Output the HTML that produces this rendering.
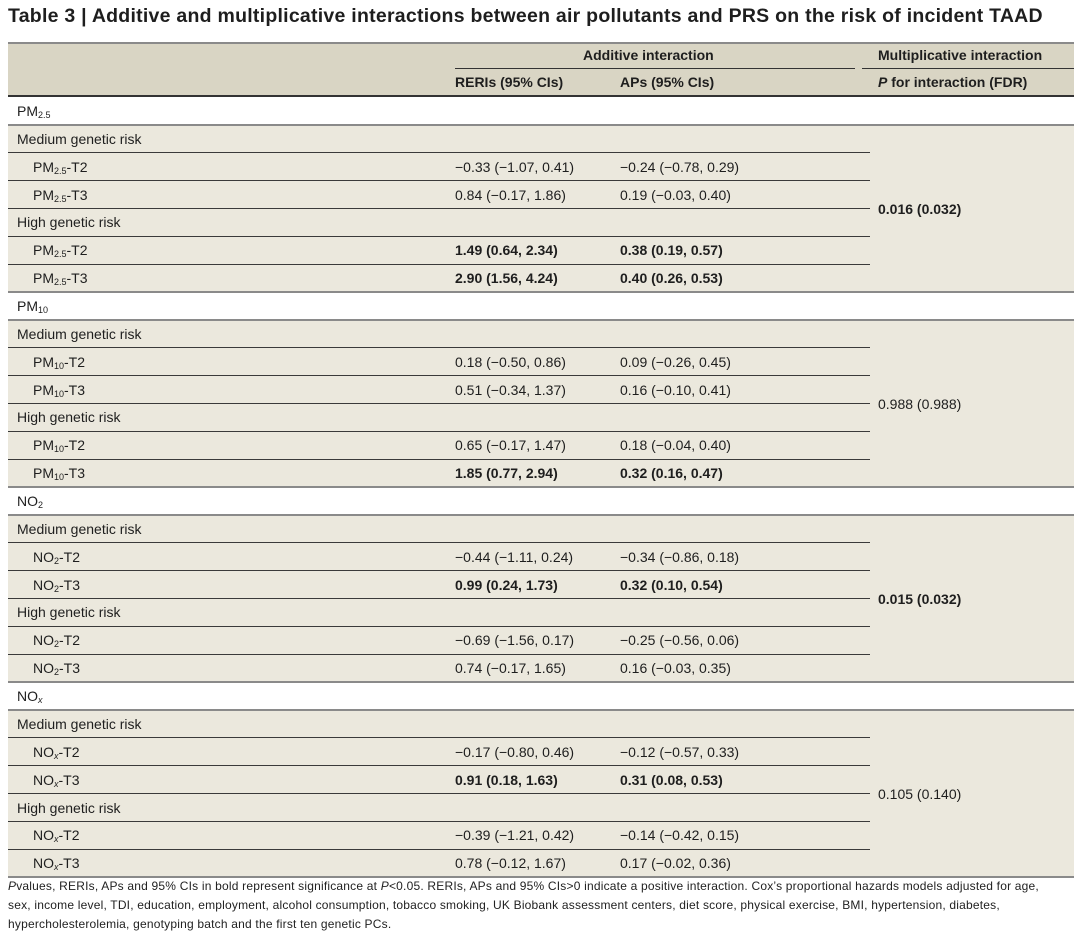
<!DOCTYPE html>
<html><head><meta charset="utf-8"><style>
body{margin:0;width:1080px;height:933px;background:#fff;position:relative;font-family:"Liberation Sans",Arial,sans-serif;color:#1e1e1e;overflow:hidden}
.a{position:absolute}
.t{left:8px;top:5px;font-size:19.5px;font-weight:bold;white-space:nowrap;letter-spacing:0.25px}
.hd{left:8px;top:42px;width:1066px;height:54px;background:#d9d5c4;border-top:2px solid #8a8a8a;box-sizing:border-box}
.hb{left:8px;top:95px;width:1066px;height:2px;background:#333}
.bg{left:8px;width:1066px;background:#ebe8dd}
.r{position:absolute;left:8px;width:1066px;height:28px;line-height:28px;font-size:14px;white-space:nowrap}
.r span{position:absolute;top:0}
.c1{left:9px}.ci{left:25px}.c2{left:447px}.c3{left:612px}
.ln{position:absolute;left:8px;width:862px;height:1px;background:#3a3a3a}
.fl{position:absolute;left:8px;width:1066px;height:2px;background:#8a8a8a}
.m{position:absolute;left:878px;font-size:14px;line-height:20px}
b{font-weight:bold}
sub{font-size:9px;vertical-align:-2px;line-height:0}
.f{left:8px;font-size:12px;white-space:nowrap;color:#222;letter-spacing:0.2px}
</style></head><body>
<div class="a t">Table 3 | Additive and multiplicative interactions between air pollutants and PRS on the risk of incident TAAD</div>
<div class="a hd"></div>
<div class="a" style="left:583px;top:47px;font-size:14px;font-weight:bold">Additive interaction</div>
<div class="a" style="left:878px;top:47px;font-size:14px;font-weight:bold">Multiplicative interaction</div>
<div class="a" style="left:455px;top:68px;width:400px;height:1px;background:#333"></div>
<div class="a" style="left:862px;top:68px;width:212px;height:1px;background:#333"></div>
<div class="a" style="left:455px;top:74px;font-size:14px;font-weight:bold">RERIs (95% CIs)</div>
<div class="a" style="left:620px;top:74px;font-size:14px;font-weight:bold">APs (95% CIs)</div>
<div class="a" style="left:878px;top:74px;font-size:14px;font-weight:bold"><i>P</i> for interaction (FDR)</div>
<div class="a hb"></div>

<!-- Block 1 -->
<div class="a bg" style="top:125px;height:168px"></div>
<div class="r" style="top:97px"><span class="c1">PM<sub>2.5</sub></span></div>
<div class="fl" style="top:124px"></div>
<div class="r" style="top:125px"><span class="c1">Medium genetic risk</span></div>
<div class="ln" style="top:152px"></div>
<div class="r" style="top:153px"><span class="ci">PM<sub>2.5</sub>-T2</span><span class="c2">−0.33 (−1.07, 0.41)</span><span class="c3">−0.24 (−0.78, 0.29)</span></div>
<div class="ln" style="top:180px"></div>
<div class="r" style="top:181px"><span class="ci">PM<sub>2.5</sub>-T3</span><span class="c2">0.84 (−0.17, 1.86)</span><span class="c3">0.19 (−0.03, 0.40)</span></div>
<div class="ln" style="top:208px"></div>
<div class="r" style="top:208px"><span class="c1">High genetic risk</span></div>
<div class="ln" style="top:236px"></div>
<div class="r" style="top:236px"><span class="ci">PM<sub>2.5</sub>-T2</span><span class="c2"><b>1.49 (0.64, 2.34)</b></span><span class="c3"><b>0.38 (0.19, 0.57)</b></span></div>
<div class="ln" style="top:264px"></div>
<div class="r" style="top:264px"><span class="ci">PM<sub>2.5</sub>-T3</span><span class="c2"><b>2.90 (1.56, 4.24)</b></span><span class="c3"><b>0.40 (0.26, 0.53)</b></span></div>
<div class="fl" style="top:291px"></div>
<div class="m" style="top:199px"><b>0.016 (0.032)</b></div>

<!-- Block 2 -->
<div class="a bg" style="top:320px;height:168px"></div>
<div class="r" style="top:292px"><span class="c1">PM<sub>10</sub></span></div>
<div class="fl" style="top:319px"></div>
<div class="r" style="top:320px"><span class="c1">Medium genetic risk</span></div>
<div class="ln" style="top:347px"></div>
<div class="r" style="top:348px"><span class="ci">PM<sub>10</sub>-T2</span><span class="c2">0.18 (−0.50, 0.86)</span><span class="c3">0.09 (−0.26, 0.45)</span></div>
<div class="ln" style="top:375px"></div>
<div class="r" style="top:376px"><span class="ci">PM<sub>10</sub>-T3</span><span class="c2">0.51 (−0.34, 1.37)</span><span class="c3">0.16 (−0.10, 0.41)</span></div>
<div class="ln" style="top:403px"></div>
<div class="r" style="top:403px"><span class="c1">High genetic risk</span></div>
<div class="ln" style="top:431px"></div>
<div class="r" style="top:431px"><span class="ci">PM<sub>10</sub>-T2</span><span class="c2">0.65 (−0.17, 1.47)</span><span class="c3">0.18 (−0.04, 0.40)</span></div>
<div class="ln" style="top:459px"></div>
<div class="r" style="top:459px"><span class="ci">PM<sub>10</sub>-T3</span><span class="c2"><b>1.85 (0.77, 2.94)</b></span><span class="c3"><b>0.32 (0.16, 0.47)</b></span></div>
<div class="fl" style="top:486px"></div>
<div class="m" style="top:394px">0.988 (0.988)</div>

<!-- Block 3 -->
<div class="a bg" style="top:515px;height:167px"></div>
<div class="r" style="top:487px"><span class="c1">NO<sub>2</sub></span></div>
<div class="fl" style="top:514px"></div>
<div class="r" style="top:515px"><span class="c1">Medium genetic risk</span></div>
<div class="ln" style="top:542px"></div>
<div class="r" style="top:543px"><span class="ci">NO<sub>2</sub>-T2</span><span class="c2">−0.44 (−1.11, 0.24)</span><span class="c3">−0.34 (−0.86, 0.18)</span></div>
<div class="ln" style="top:570px"></div>
<div class="r" style="top:571px"><span class="ci">NO<sub>2</sub>-T3</span><span class="c2"><b>0.99 (0.24, 1.73)</b></span><span class="c3"><b>0.32 (0.10, 0.54)</b></span></div>
<div class="ln" style="top:598px"></div>
<div class="r" style="top:598px"><span class="c1">High genetic risk</span></div>
<div class="ln" style="top:626px"></div>
<div class="r" style="top:626px"><span class="ci">NO<sub>2</sub>-T2</span><span class="c2">−0.69 (−1.56, 0.17)</span><span class="c3">−0.25 (−0.56, 0.06)</span></div>
<div class="ln" style="top:654px"></div>
<div class="r" style="top:654px"><span class="ci">NO<sub>2</sub>-T3</span><span class="c2">0.74 (−0.17, 1.65)</span><span class="c3">0.16 (−0.03, 0.35)</span></div>
<div class="fl" style="top:681px"></div>
<div class="m" style="top:589px"><b>0.015 (0.032)</b></div>

<!-- Block 4 -->
<div class="a bg" style="top:710px;height:167px"></div>
<div class="r" style="top:682px"><span class="c1">NO<sub><i>x</i></sub></span></div>
<div class="fl" style="top:709px"></div>
<div class="r" style="top:710px"><span class="c1">Medium genetic risk</span></div>
<div class="ln" style="top:737px"></div>
<div class="r" style="top:738px"><span class="ci">NO<sub><i>x</i></sub>-T2</span><span class="c2">−0.17 (−0.80, 0.46)</span><span class="c3">−0.12 (−0.57, 0.33)</span></div>
<div class="ln" style="top:765px"></div>
<div class="r" style="top:766px"><span class="ci">NO<sub><i>x</i></sub>-T3</span><span class="c2"><b>0.91 (0.18, 1.63)</b></span><span class="c3"><b>0.31 (0.08, 0.53)</b></span></div>
<div class="ln" style="top:793px"></div>
<div class="r" style="top:794px"><span class="c1">High genetic risk</span></div>
<div class="ln" style="top:821px"></div>
<div class="r" style="top:821px"><span class="ci">NO<sub><i>x</i></sub>-T2</span><span class="c2">−0.39 (−1.21, 0.42)</span><span class="c3">−0.14 (−0.42, 0.15)</span></div>
<div class="ln" style="top:849px"></div>
<div class="r" style="top:849px"><span class="ci">NO<sub><i>x</i></sub>-T3</span><span class="c2">0.78 (−0.12, 1.67)</span><span class="c3">0.17 (−0.02, 0.36)</span></div>
<div class="fl" style="top:876px"></div>
<div class="m" style="top:784px">0.105 (0.140)</div>

<div class="a f" style="top:879px"><i>P</i>values, RERIs, APs and 95% CIs in bold represent significance at <i>P</i>&lt;0.05. RERIs, APs and 95% CIs&gt;0 indicate a positive interaction. Cox’s proportional hazards models adjusted for age,</div>
<div class="a f" style="top:898px">sex, income level, TDI, education, employment, alcohol consumption, tobacco smoking, UK Biobank assessment centers, diet score, physical exercise, BMI, hypertension, diabetes,</div>
<div class="a f" style="top:917px">hypercholesterolemia, genotyping batch and the first ten genetic PCs.</div>
</body></html>
